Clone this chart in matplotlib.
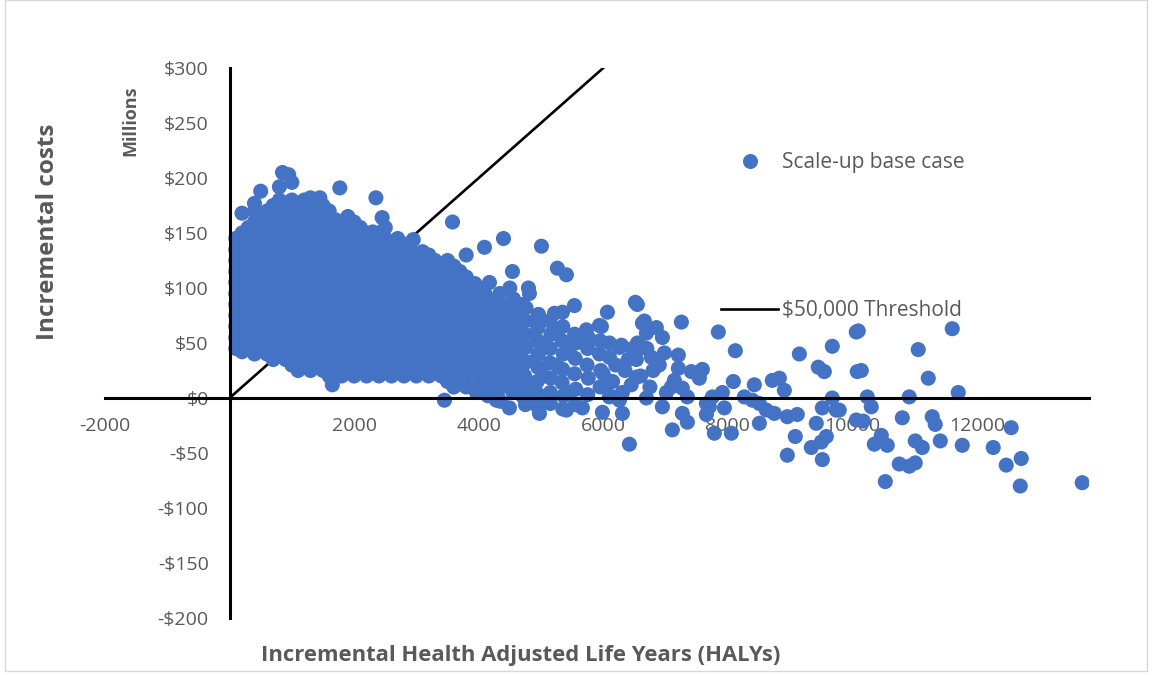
import matplotlib
matplotlib.use("Agg")
import matplotlib.pyplot as plt
from matplotlib.lines import Line2D
from matplotlib.patches import Rectangle

plt.rcParams['font.family'] = ['Open Sans', 'DejaVu Sans']

# Dense core of the simulation cloud: incremental HALYs -> incremental costs ($M)
core_columns = {
    100: [45, 55, 65, 75, 85, 95, 105, 115, 125, 135, 145],
    200: [42, 50, 60, 70, 80, 90, 100, 110, 120, 130, 140, 150, 168],
    300: [45, 55, 65, 75, 85, 95, 105, 115, 125, 135, 145, 155],
    400: [40, 50, 60, 70, 80, 90, 100, 110, 120, 130, 140, 150, 160, 170, 177],
    500: [45, 55, 65, 75, 85, 95, 105, 115, 125, 135, 145, 155, 165, 188],
    600: [40, 50, 60, 70, 80, 90, 100, 110, 120, 130, 140, 150, 160, 170],
    700: [35, 45, 55, 65, 75, 85, 95, 105, 115, 125, 135, 145, 155, 165, 175],
    800: [40, 50, 60, 70, 80, 90, 100, 110, 120, 130, 140, 150, 160, 170, 180, 192],
    850: [205],
    900: [35, 45, 55, 65, 75, 85, 95, 105, 115, 125, 135, 145, 155, 165, 175],
    950: [203],
    1000: [30, 40, 50, 60, 70, 80, 90, 100, 110, 120, 130, 140, 150, 160, 170, 180, 196],
    1100: [25, 35, 45, 55, 65, 75, 85, 95, 105, 115, 125, 135, 145, 155, 165, 175],
    1200: [30, 40, 50, 60, 70, 80, 90, 100, 110, 120, 130, 140, 150, 160, 170, 180],
    1300: [25, 35, 45, 55, 65, 75, 85, 95, 105, 115, 125, 135, 145, 155, 165, 175, 182],
    1400: [30, 40, 50, 60, 70, 80, 90, 100, 110, 120, 130, 140, 150, 160, 170],
    1450: [182],
    1500: [25, 35, 45, 55, 65, 75, 85, 95, 105, 115, 125, 135, 145, 155, 165, 175],
    1600: [20, 30, 40, 50, 60, 70, 80, 90, 100, 110, 120, 130, 140, 150, 160, 170],
    1650: [12],
    1700: [25, 35, 45, 55, 65, 75, 85, 95, 105, 115, 125, 135, 145, 155, 162],
    1770: [191],
    1800: [20, 30, 40, 50, 60, 70, 80, 90, 100, 110, 120, 130, 140, 150, 160],
    1900: [25, 35, 45, 55, 65, 75, 85, 95, 105, 115, 125, 135, 145, 155, 165],
    2000: [20, 30, 40, 50, 60, 70, 80, 90, 100, 110, 120, 130, 140, 150, 160],
    2100: [25, 35, 45, 55, 65, 75, 85, 95, 105, 115, 125, 135, 145, 155],
    2200: [20, 30, 40, 50, 60, 70, 80, 90, 100, 110, 120, 130, 140, 150],
    2300: [25, 35, 45, 55, 65, 75, 85, 95, 105, 115, 125, 135, 145, 151],
    2350: [182],
    2400: [20, 30, 40, 50, 60, 70, 80, 90, 100, 110, 120, 130, 140, 150],
    2450: [164],
    2500: [25, 35, 45, 55, 65, 75, 85, 95, 105, 115, 125, 135, 145, 155],
    2600: [20, 30, 40, 50, 60, 70, 80, 90, 100, 110, 120, 130, 140],
    2700: [25, 35, 45, 55, 65, 75, 85, 95, 105, 115, 125, 135, 145],
    2800: [20, 30, 40, 50, 60, 70, 80, 90, 100, 110, 120, 130, 140],
    2900: [25, 35, 45, 55, 65, 75, 85, 95, 105, 115, 125, 135],
    2950: [144],
    3000: [20, 30, 40, 50, 60, 70, 80, 90, 100, 110, 120, 130],
    3100: [25, 35, 45, 55, 65, 75, 85, 95, 105, 115, 125, 133],
    3200: [20, 30, 40, 50, 60, 70, 80, 90, 100, 110, 120, 130],
    3300: [25, 35, 45, 55, 65, 75, 85, 95, 105, 115, 125],
    3400: [20, 30, 40, 50, 60, 70, 80, 90, 100, 110, 120],
    3450: [-2],
    3500: [15, 25, 35, 45, 55, 65, 75, 85, 95, 105, 115, 125],
    3580: [160],
    3600: [10, 20, 30, 40, 50, 60, 70, 80, 90, 100, 110, 120],
    3700: [15, 25, 35, 45, 55, 65, 75, 85, 95, 105, 115],
    3800: [10, 20, 30, 40, 50, 60, 70, 80, 90, 100, 110, 130],
}

# Thinning band between roughly 3,900 and 6,000 HALYs
spread_points = [
    (3950, 8), (3960, 20), (3940, 32), (3950, 44), (3960, 56), (3940, 68), (3950, 80),
    (3960, 92), (3940, 104), (3964, 5),
    (4050, 14), (4060, 26), (4040, 38), (4050, 50), (4060, 62), (4040, 74), (4050, 86),
    (4060, 98),
    (4100, 8), (4100, 33), (4100, 57), (4100, 81), (4100, 95),
    (4150, 2), (4160, 15), (4140, 27), (4150, 40), (4160, 52), (4140, 64), (4150, 76),
    (4160, 88), (4173, 105), (4093, 137),
    (4250, 8), (4260, 21), (4240, 33), (4250, 46), (4260, 58), (4240, 70), (4250, 82),
    (4285, -2),
    (4300, 2), (4300, 27), (4300, 52), (4300, 76), (4300, 90),
    (4350, -3), (4360, 10), (4340, 22), (4350, 35), (4360, 47), (4340, 60), (4350, 72),
    (4360, 84), (4340, 95), (4398, 145),
    (4450, 14), (4460, 27), (4440, 40), (4450, 52), (4460, 64), (4440, 76), (4494, -9),
    (4500, 10), (4500, 35), (4500, 60), (4500, 85), (4500, 100),
    (4550, 5), (4560, 18), (4540, 30), (4550, 42), (4560, 55), (4540, 68), (4550, 80),
    (4560, 90), (4542, 115),
    (4650, 12), (4660, 25), (4640, 38), (4650, 62), (4660, 74),
    (4700, 2), (4700, 28), (4700, 50), (4700, 85),
    (4750, -6), (4760, 8), (4740, 20), (4750, 33), (4760, 46), (4740, 58), (4750, 70),
    (4760, 82), (4799, 100), (4815, 95), (4815, -4),
    (4900, 10), (4900, 34), (4900, 58), (4900, 70),
    (4950, -8), (4960, 3), (4940, 15), (4950, 28), (4960, 40), (4940, 52), (4950, 64),
    (4960, 76), (4976, -14), (5008, 138), (5050, 0), (5050, 20), (5050, 50),
    (5150, 5), (5160, 18), (5140, 32), (5150, 45), (5160, 58), (5140, 70), (5150, -5),
    (5216, 77), (5264, 118), (5250, 30), (5250, 60),
    (5350, -10), (5360, 2), (5340, 14), (5350, 26), (5360, 40), (5340, 52), (5350, 65),
    (5345, 78), (5409, 112), (5409, -11), (5450, 44), (5450, 5),
    (5550, -6), (5560, 8), (5540, 22), (5550, 36), (5560, 50), (5540, 58), (5537, 84),
    (5666, -9), (5730, 62),
    (5750, 3), (5760, 18), (5740, 30), (5750, 45), (5760, 55),
    (5950, 10), (5960, 25), (5940, 40), (5950, 52), (5939, 66),
]

# Sparse tail out to the largest HALY gains
tail_points = [
    (5987, -13), (6308, -14), (6516, 87), (6548, 85), (6067, 78), (6661, 70), (7255, 69),
    (6853, 64), (6693, 59), (6950, 55), (5971, 65), (6292, 48), (6468, 45), (6629, 46),
    (6773, 37), (6982, 41), (7206, 39), (6532, 35), (6099, 37), (6629, 68), (6260, 46),
    (6532, 19), (6051, 10), (6211, 1), (6100, 50), (6200, 30), (6350, 25), (6450, 12),
    (6000, 22), (6150, 15), (6400, 35), (6550, 50), (6700, 45), (6800, 25), (6900, 30),
    (6600, 20), (6750, 10),
    (7848, 60), (8121, 43), (9149, 40), (9678, 47), (10063, 60), (9453, 28), (9550, 24),
    (10079, 24), (7206, 27), (7415, 24), (7592, 26), (7544, 18), (7142, 16), (7094, 10),
    (7014, 5), (7271, 9), (7351, 1), (8089, 15), (8426, 12), (8715, 16), (8828, 18),
    (8908, 7), (7913, 5), (7752, 1), (7656, -5), (7704, -8), (8266, 1), (8394, -2),
    (8507, -5), (7945, -9), (6950, -8), (6693, 0), (6260, -2), (6099, 1), (6308, 5),
    (8619, -11), (8747, -14), (8956, -17), (9116, -15), (9678, 0), (9518, -9), (9742, -11),
    (7271, -14), (7351, -22), (7656, -15), (8507, -23), (9421, -23), (7784, -32),
    (8057, -32), (7110, -29), (9084, -35), (6420, -42), (9341, -45), (9502, -40),
    (9582, -35), (8956, -52), (9518, -56), (10063, -20),
    (10095, 61), (11604, 63), (11058, 44), (10144, 25), (11219, 18), (10914, 1), (11700, 5),
    (10240, 1), (10304, -8), (9790, -11), (10802, -18), (11283, -17), (11331, -24),
    (10176, -21), (12551, -27), (10352, -42), (10465, -34), (10561, -43), (11010, -39),
    (11123, -45), (11412, -39), (11765, -43), (12262, -45), (10754, -60), (10914, -62),
    (11010, -59), (12471, -61), (12712, -55), (10529, -76), (12696, -80), (13691, -77),
]

threshold_per_haly = 50000          # $ per HALY
threshold_halys = [0, 6000]

x_ticks = [-2000, 2000, 4000, 6000, 8000, 10000, 12000]
y_ticks = [300, 250, 200, 150, 100, 50, 0, -50, -100, -150, -200]

BLUE = '#4472C4'
GREY = '#595959'

halys, costs = [], []
for h, col in core_columns.items():
    halys.extend([h] * len(col))
    costs.extend(col)
for h, c in spread_points + tail_points:
    halys.append(h)
    costs.append(c)

fig = plt.figure(figsize=(11.52, 6.75), dpi=100)
ax = fig.add_axes([105 / 1152, 1 - 618 / 675, (1089 - 105) / 1152, 550 / 675])

ax.scatter(halys, costs, s=118, color=BLUE, edgecolors='none', zorder=3,
           label='Scale-up base case')
threshold_costs = [h * threshold_per_haly / 1e6 for h in threshold_halys]
ax.plot(threshold_halys, threshold_costs, color='black', lw=1.9, zorder=2,
        label='$50,000 Threshold')

ax.set_xlim(-2000, 13800)
ax.set_ylim(-200, 300)

for side in ('top', 'right'):
    ax.spines[side].set_visible(False)
ax.spines['left'].set_position(('data', 0))
ax.spines['bottom'].set_position(('data', 0))
for side in ('left', 'bottom'):
    ax.spines[side].set_linewidth(2.2)
    ax.spines[side].set_color('black')
    ax.spines[side].set_zorder(5)

ax.set_xticks(x_ticks)
ax.set_xticklabels([str(v) for v in x_ticks])
ax.set_yticks(y_ticks)
ax.set_yticklabels([('-$%d' % -v) if v < 0 else ('$%d' % v) for v in y_ticks])
ax.tick_params(axis='both', length=0, labelsize=14, labelcolor=GREY)
ax.tick_params(axis='y', pad=15)
ax.tick_params(axis='x', pad=14)
ax.patch.set_visible(False)

fig.text(521 / 1152, 1 - 655 / 675, 'Incremental Health Adjusted Life Years (HALYs)',
         ha='center', va='center', fontsize=15.8, fontweight='bold', color=GREY)
fig.text(48 / 1152, 1 - 232 / 675, 'Incremental costs', rotation=90,
         ha='center', va='center', fontsize=17.5, fontweight='bold', color=GREY)
fig.text(130 / 1152, 1 - 121 / 675, 'Millions', rotation=90,
         ha='center', va='center', fontsize=13, fontweight='bold', color=GREY)

handles = [
    Line2D([], [], marker='o', linestyle='none', markersize=10.8,
           markerfacecolor=BLUE, markeredgecolor='none'),
    Line2D([], [], color='black', lw=1.9),
]
leg = ax.legend(handles, ['Scale-up base case', '$50,000 Threshold'],
                loc='upper left', bbox_to_anchor=(711 / 1152, 1 - 142 / 675),
                bbox_transform=fig.transFigure, frameon=False, fontsize=15,
                labelspacing=6.1, handlelength=2.7, handletextpad=0.2,
                borderpad=0, labelcolor=GREY)

fig.patches.append(Rectangle((5 / 1152, 4 / 675), 1142 / 1152, 671 / 675,
                             transform=fig.transFigure, fill=False,
                             edgecolor='#D9D9D9', lw=1.0))

fig.savefig('out.png', dpi=100)
